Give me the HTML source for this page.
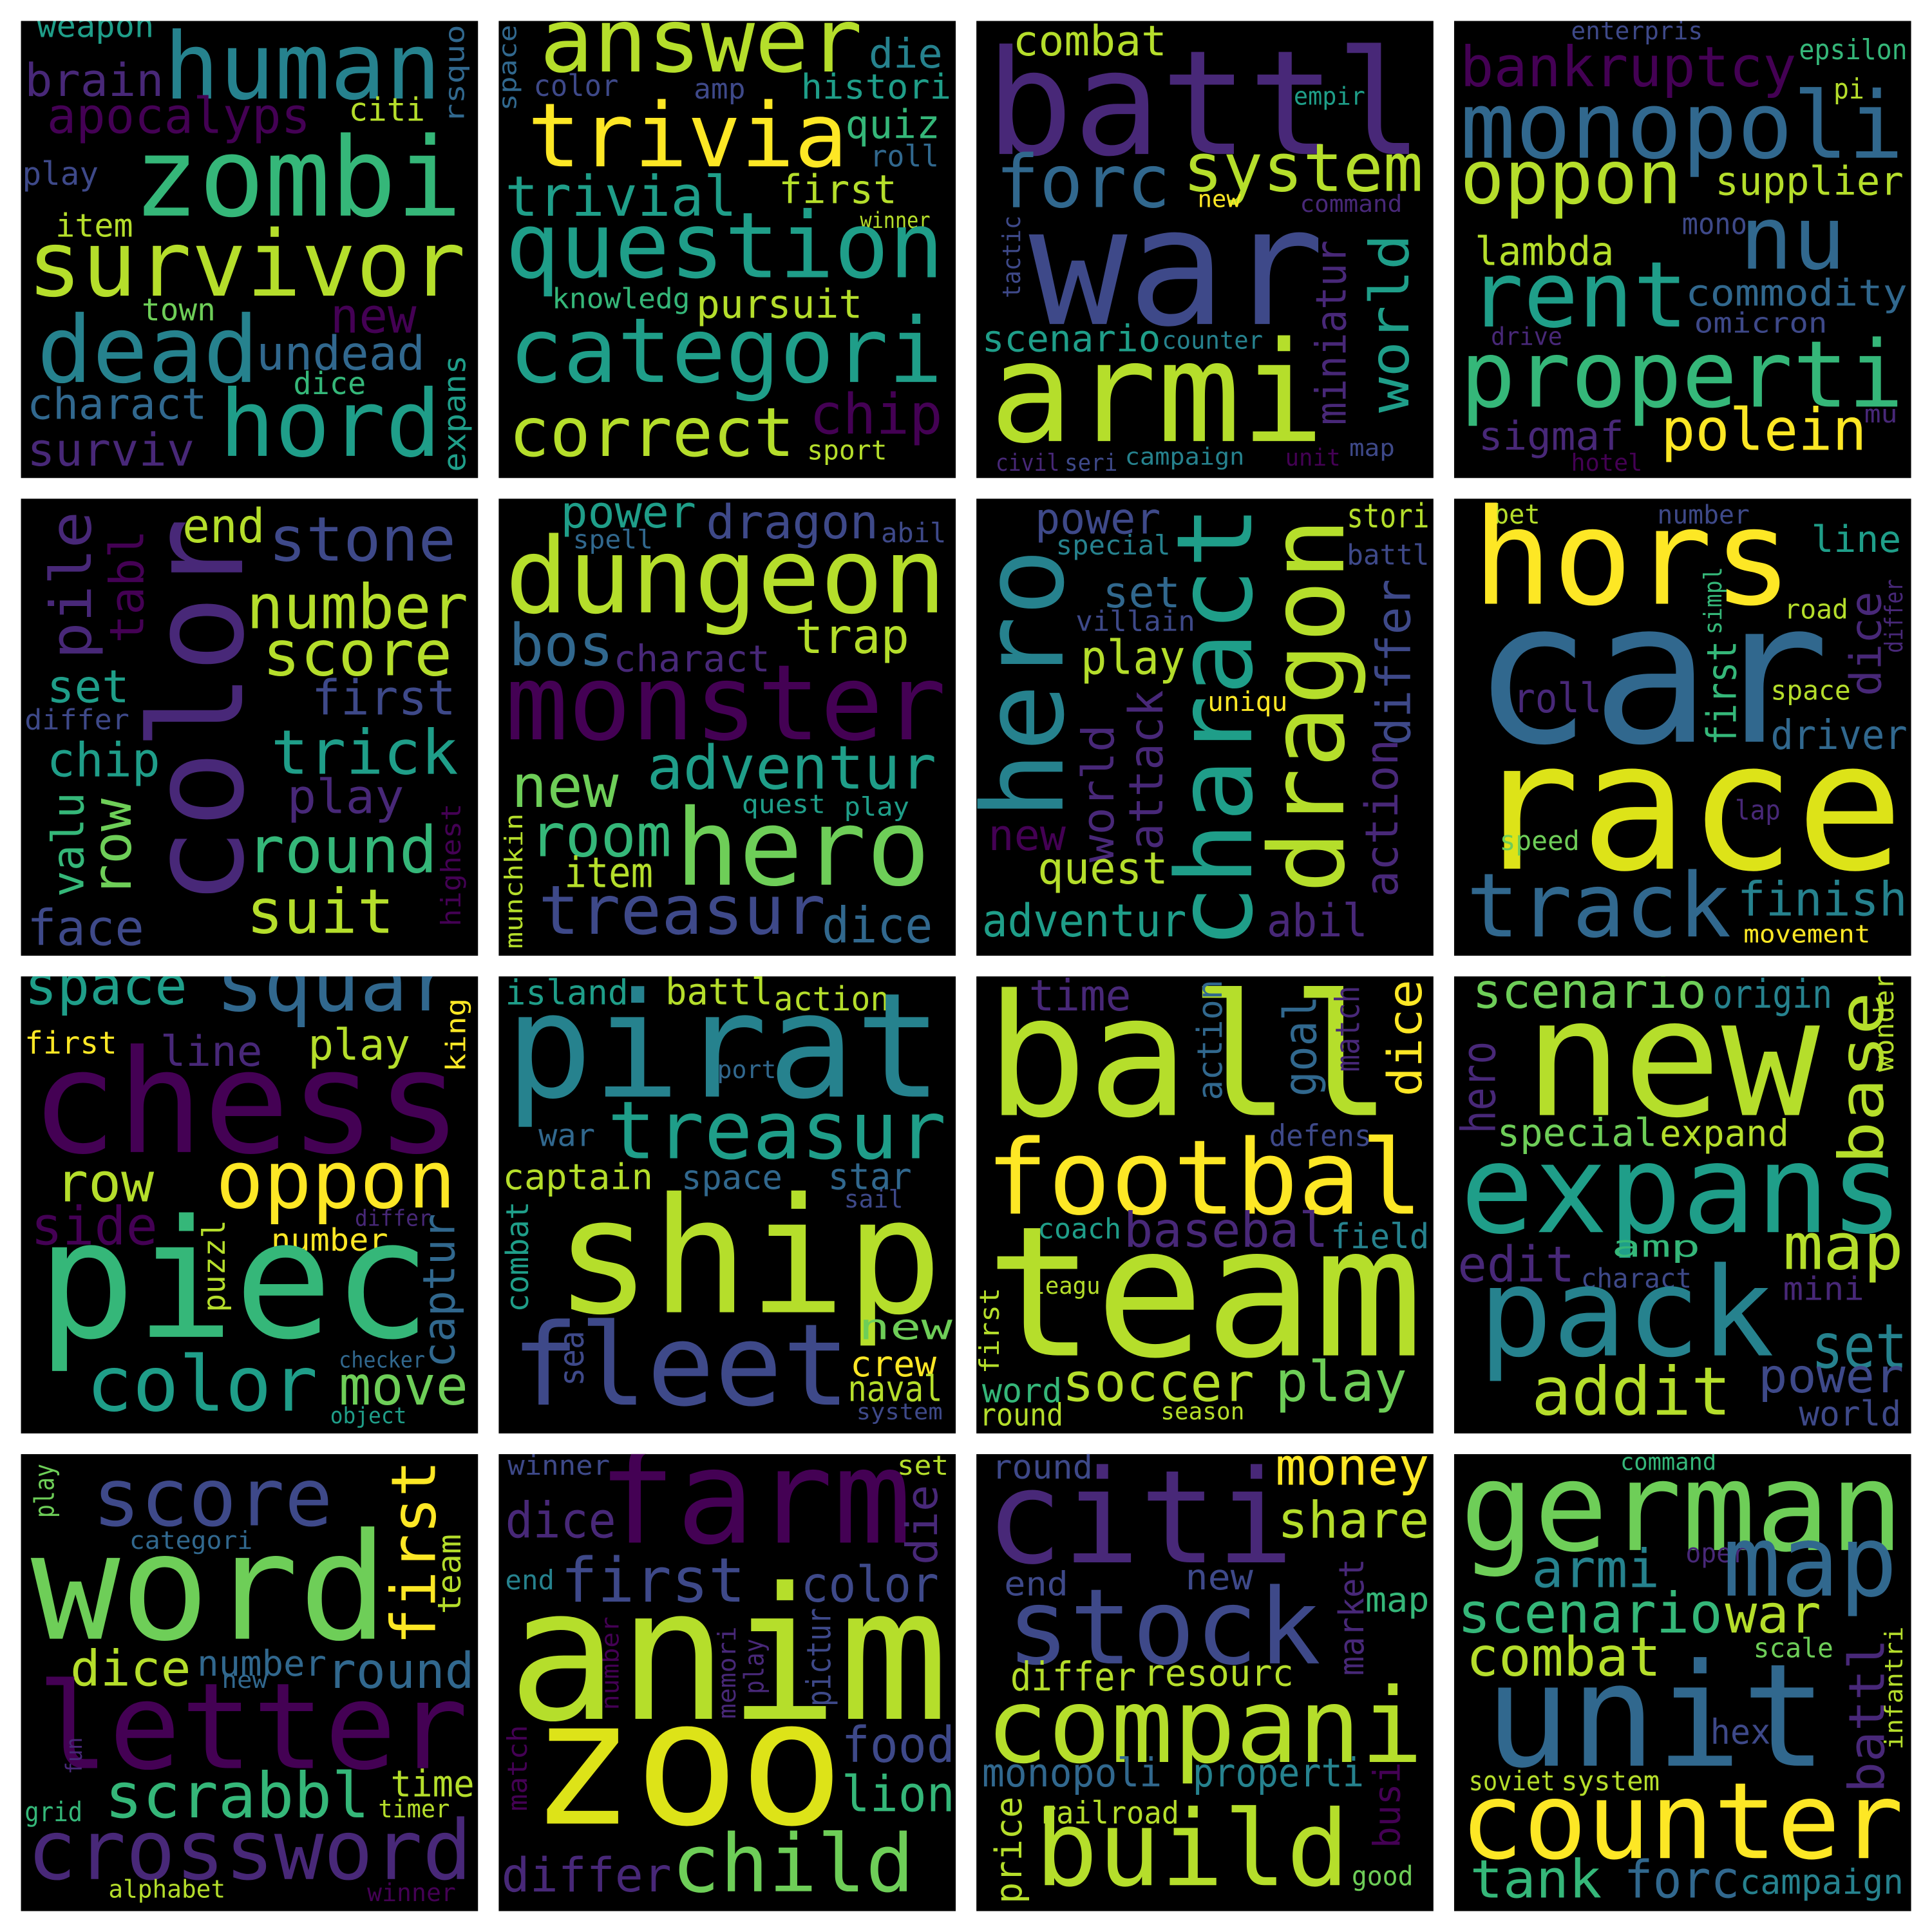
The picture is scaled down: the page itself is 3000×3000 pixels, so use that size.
<!DOCTYPE html>
<html><head><meta charset="utf-8"><style>
html,body{margin:0;padding:0;background:#fff;}
svg{display:block;}
text{font-family:"DejaVu Sans Mono","Liberation Mono",monospace;}
</style></head><body>
<svg id="chart" width="3000" height="3000" viewBox="0 0 1568 1568" xmlns="http://www.w3.org/2000/svg">
<rect width="1568" height="1568" fill="#fff"/>
<defs id="defs"></defs>
</svg>
<script>
const C={a:'#440154',b:'#482878',c:'#3e4989',d:'#31688e',e:'#26828e',f:'#1f9e89',g:'#35b779',h:'#6ece58',i:'#b5de2b',j:'#fde725',k:'#dde318'};
// [word, x, y, length, fontSize, colour, rotated]
const panel1=[["weapon",30,30,95,26,"f"],["human",133,80,225,75,"e"],["rsquo",370,100,80,22,"d",1],["brain",20,78,113,37,"b"],["apocalyps",38,108,214,40,"a"],["citi",283,98,62,26,"i"],["play",18,150,62,26,"c"],["zombi",108,175,267,89,"g"],["item",45,192,63,26,"i"],["survivor",22,240,356,74,"i"],["town",115,260,60,25,"h"],["new",268,270,70,39,"a"],["dead",30,310,180,75,"e"],["undead",208,300,137,38,"d"],["dice",238,320,59,25,"g"],["expans",370,383,95,25,"f",1],["charact",22,340,146,35,"d"],["hord",178,370,180,75,"f"],["surviv",22,378,136,37,"b"]];
const panel2=[["space",413,90,70,20,"d",1],["answer",438,58,262,72,"i"],["die",705,55,60,33,"e"],["color",433,78,69,24,"c"],["amp",563,80,42,23,"c"],["histori",650,80,122,28,"f"],["trivia",428,135,260,72,"j"],["quiz",686,112,77,32,"g"],["roll",706,135,56,24,"d"],["trivial",410,175,188,45,"f"],["first",632,165,96,32,"i"],["winner",698,185,57,18,"i"],["question",410,225,356,74,"f"],["knowledg",448,250,112,23,"g"],["pursuit",565,258,135,32,"i"],["categori",413,310,352,73,"f"],["chip",657,352,108,45,"a"],["correct",413,370,232,55,"i"],["sport",655,373,65,22,"i"]];
const panel3=[["combat",822,45,125,34,"i"],["battl",800,125,355,118,"b"],["empir",1050,85,58,20,"f"],["forc",808,168,142,59,"d"],["system",960,155,195,54,"i"],["new",972,168,35,19,"j"],["command",1055,172,83,19,"b"],["tactic",822,242,67,20,"c",1],["war",835,263,240,133,"c"],["miniatur",1082,345,150,34,"b",1],["world",1130,335,145,44,"f",1],["scenario",797,285,145,30,"f"],["counter",943,283,82,20,"e"],["armi",803,358,272,113,"i"],["civil",808,382,52,19,"b"],["seri",864,382,43,19,"c"],["campaign",913,377,97,19,"e"],["unit",1043,378,45,19,"a"],["map",1095,370,37,19,"c"]];
const panel4=[["enterpris",1275,32,107,20,"c"],["epsilon",1460,48,88,23,"g"],["bankruptcy",1185,70,273,45,"a"],["pi",1488,80,25,23,"i"],["monopoli",1185,128,360,75,"d"],["oppon",1185,165,180,60,"i"],["supplier",1392,158,153,32,"i"],["mono",1365,190,53,24,"c"],["nu",1412,218,86,71,"d"],["lambda",1197,215,113,32,"i"],["rent",1192,265,178,74,"f"],["commodity",1368,248,180,30,"d"],["omicron",1375,270,108,23,"c"],["drive",1210,280,58,20,"b"],["properti",1185,330,360,75,"g"],["sigmaf",1200,365,118,32,"b"],["polein",1348,365,167,47,"j"],["mu",1513,343,27,20,"b"],["hotel",1275,382,58,19,"a"]];
const panel5=[["pile",60,535,120,46,"b",1],["tabl",105,522,92,38,"a",1],["color",165,735,315,105,"b",1],["end",148,440,67,38,"i"],["stone",218,455,152,50,"c"],["number",200,510,180,50,"i"],["score",213,548,154,51,"i"],["first",253,580,117,39,"c"],["set",38,570,67,37,"f"],["differ",20,592,85,23,"c"],["chip",38,630,92,38,"f"],["trick",220,628,152,50,"f"],["valu",57,728,85,36,"g",1],["row",93,728,80,44,"h",1],["play",233,660,95,38,"b"],["round",200,708,155,52,"g"],["highest",367,752,100,22,"a",1],["suit",200,757,120,50,"i"],["face",22,767,95,40,"c"]];
const panel6=[["power",455,428,110,36,"f"],["dragon",573,437,140,38,"c"],["spell",465,445,65,21,"d"],["abil",715,440,53,22,"c"],["dungeon",410,497,358,85,"i"],["bos",413,540,85,47,"d"],["charact",498,545,127,30,"b"],["trap",645,530,93,39,"i"],["monster",410,600,358,85,"a"],["new",415,655,87,48,"h"],["adventur",525,640,235,49,"f"],["quest",602,660,68,21,"f"],["play",685,662,53,21,"f"],["room",430,695,115,48,"g"],["munchkin",418,770,110,20,"i",1],["hero",548,718,207,86,"h"],["item",458,720,72,34,"i"],["treasur",437,758,233,55,"c"],["dice",667,765,90,40,"d"]];
const panel7=[["power",840,433,102,35,"c"],["stori",1093,428,67,27,"i"],["special",857,450,93,22,"e"],["battl",1093,458,67,23,"c"],["charact",990,770,360,85,"f",1],["dragon",1065,725,305,84,"i",1],["hero",835,665,220,91,"e",1],["set",895,493,63,35,"d"],["villain",873,512,97,23,"c"],["differ",1133,605,135,38,"c",1],["play",877,547,85,38,"i"],["uniqu",980,577,65,22,"j"],["world",893,700,112,36,"b",1],["attack",932,690,130,38,"b",1],["action",1123,728,128,37,"b",1],["new",802,690,63,35,"a"],["quest",842,717,106,36,"i"],["adventur",797,760,166,37,"f"],["abil",1028,760,82,37,"b"]];
const panel8=[["bet",1212,425,38,22,"i"],["number",1345,425,75,21,"c"],["hors",1195,490,260,108,"j"],["line",1470,448,73,30,"f"],["simpl",1391,515,55,20,"g",1],["road",1448,502,52,22,"i"],["dice",1516,565,85,35,"b",1],["differ",1538,530,60,20,"b",1],["car",1195,602,290,160,"d"],["first",1399,605,85,33,"g",1],["roll",1228,578,72,33,"b"],["space",1437,568,65,22,"i"],["driver",1437,608,111,33,"d"],["race",1195,705,350,145,"k"],["lap",1408,665,37,22,"b"],["speed",1217,690,65,22,"h"],["track",1190,760,215,72,"d"],["finish",1410,743,138,38,"e"],["movement",1415,765,103,20,"j"]];
const panel9=[["space",20,815,132,44,"f"],["squar",175,820,195,65,"d"],["king",371,870,60,22,"j",1],["first",20,855,75,25,"j"],["line",130,865,83,34,"b"],["play",250,860,83,35,"i"],["chess",25,935,350,116,"a"],["row",45,975,80,44,"i"],["oppon",175,980,195,65,"j"],["side",25,1010,103,43,"a"],["differ",288,995,62,18,"b"],["puzzl",175,1065,75,25,"i",1],["number",220,1015,95,25,"j"],["captur",358,1110,125,36,"d",1],["piec",30,1085,320,133,"g"],["checker",275,1110,70,18,"d"],["color",70,1145,188,62,"f"],["move",275,1140,105,44,"h"],["object",268,1155,62,18,"f"]];
const panel10=[["island",410,815,100,28,"f"],["battl",540,815,87,30,"i"],["action",628,820,94,27,"i"],["pirat",410,890,355,118,"e"],["port",582,875,48,20,"d"],["war",437,930,46,25,"d"],["treasur",493,940,275,65,"f"],["captain",408,965,122,29,"i"],["space",553,965,82,27,"d"],["star",672,965,68,30,"d"],["sail",685,980,48,20,"c"],["combat",421,1065,90,25,"f",1],["ship",450,1065,315,130,"i"],["sea",465,1125,45,28,"c",1],["fleet",415,1140,275,92,"c"],["new",697,1087,76,29,"h"],["crew",690,1117,70,29,"j"],["naval",688,1137,77,29,"i"],["system",695,1152,70,18,"c"]];
const panel11=[["time",835,820,83,35,"b"],["ball",800,905,330,137,"i"],["action",983,893,98,28,"d",1],["goal",1057,890,82,37,"d",1],["match",1095,870,70,27,"b",1],["dice",1142,890,95,38,"j",1],["defens",1030,930,83,24,"c"],["footbal",800,985,355,84,"j"],["coach",842,1005,68,23,"f"],["basebal",912,1012,166,39,"b"],["field",1080,1013,80,28,"e"],["leagu",837,1050,56,19,"i"],["first",804,1115,70,22,"i",1],["team",800,1100,355,147,"i"],["word",797,1138,65,27,"g"],["round",795,1157,68,25,"i"],["soccer",862,1137,156,43,"i"],["play",1035,1137,107,45,"h"],["season",942,1152,68,19,"i"]];
const panel12=[["scenario",1195,818,190,39,"h"],["origin",1390,818,97,32,"e"],["wonder",1530,870,80,22,"i",1],["new",1237,905,240,133,"i"],["base",1513,945,140,50,"i",1],["hero",1202,920,75,38,"b",1],["special",1215,930,130,31,"h"],["expand",1347,930,105,30,"i"],["expans",1185,1000,360,100,"f"],["map",1447,1030,98,52,"i"],["amp",1308,1020,72,24,"g"],["edit",1183,1040,95,40,"b"],["charact",1283,1045,90,22,"c"],["mini",1447,1055,66,26,"b"],["pack",1200,1100,240,100,"e"],["set",1470,1110,78,50,"e"],["addit",1243,1148,162,54,"i"],["power",1427,1130,118,38,"c"],["world",1460,1157,83,28,"c"]];
const panel13=[["play",37,1232,44,22,"h",1],["score",75,1238,195,65,"c"],["categori",105,1257,100,20,"d"],["first",338,1335,150,50,"j",1],["team",366,1310,65,26,"i",1],["word",25,1330,290,120,"h"],["dice",57,1368,98,40,"i"],["number",160,1360,105,29,"d"],["new",180,1370,37,19,"d"],["round",265,1370,120,40,"d"],["letter",30,1435,350,97,"a"],["fun",61,1440,30,18,"b",1],["scrabbl",85,1475,215,51,"g"],["time",317,1458,68,30,"i"],["grid",20,1478,47,22,"g"],["timer",307,1475,58,20,"i"],["crossword",22,1525,361,67,"b"],["alphabet",88,1540,95,20,"i"],["winner",298,1543,72,20,"a"]];
const panel14=[["winner",412,1197,83,22,"c"],["set",728,1197,42,22,"i"],["farm",485,1252,255,106,"a"],["die",750,1270,65,35,"b",1],["dice",410,1248,90,40,"b"],["end",410,1290,40,22,"e"],["first",455,1300,150,50,"c"],["color",650,1300,112,40,"c"],["number",496,1388,76,20,"a",1],["memori",591,1395,75,20,"b",1],["play",613,1375,45,22,"b",1],["pictur",666,1385,80,27,"c",1],["anim",412,1395,358,149,"i"],["match",421,1470,70,22,"a",1],["food",683,1430,92,40,"c"],["zoo",430,1480,255,141,"k"],["lion",683,1470,92,40,"g"],["differ",407,1535,138,38,"b"],["child",545,1535,197,65,"h"]];
const panel15=[["round",805,1200,82,27,"c"],["money",1035,1205,125,42,"j"],["citi",800,1268,250,105,"b"],["share",1037,1248,123,41,"i"],["end",815,1295,52,27,"c"],["new",962,1290,55,29,"c"],["market",1098,1360,95,28,"b",1],["map",1108,1308,52,28,"g"],["stock",817,1350,255,85,"c"],["differ",820,1372,102,32,"i"],["resourc",928,1368,122,30,"i"],["compani",800,1430,355,84,"i"],["monopoli",797,1450,146,32,"d"],["properti",968,1450,139,32,"e"],["price",820,1545,87,30,"i",1],["railroad",843,1480,114,25,"i"],["busi",1127,1500,70,30,"a",1],["build",840,1530,255,85,"i"],["good",1097,1530,50,22,"h"]];
const panel16=[["command",1315,1193,78,19,"g"],["german",1185,1258,360,100,"h"],["armi",1243,1288,104,43,"e"],["oper",1368,1268,50,22,"b"],["map",1398,1295,142,80,"d"],["scenario",1183,1325,215,45,"g"],["war",1400,1325,78,43,"i"],["combat",1190,1360,158,44,"i"],["scale",1423,1345,65,22,"h"],["infantri",1538,1420,100,20,"i",1],["battl",1517,1455,125,40,"b",1],["unit",1205,1433,278,116,"d"],["hex",1388,1415,49,28,"c"],["soviet",1192,1453,70,22,"i"],["system",1267,1453,80,22,"i"],["counter",1185,1508,360,86,"j"],["tank",1193,1540,107,43,"g"],["forc",1318,1540,94,42,"d"],["campaign",1412,1537,133,28,"e"]];
const panels=[panel1,panel2,panel3,panel4,panel5,panel6,panel7,panel8,panel9,panel10,panel11,panel12,panel13,panel14,panel15,panel16];
const NS='http://www.w3.org/2000/svg';
const svg=document.getElementById('chart');
const defs=document.getElementById('defs');
panels.forEach((words,p)=>{
  const col=p%4,row=Math.floor(p/4);
  const px=17+col*387.7,py=17+row*387.7;
  const cp=document.createElementNS(NS,'clipPath');
  cp.setAttribute('id','clip'+p);
  const cr=document.createElementNS(NS,'rect');
  cr.setAttribute('x',px);cr.setAttribute('y',py);cr.setAttribute('width',371);cr.setAttribute('height',371);
  cp.appendChild(cr);defs.appendChild(cp);
  const g=document.createElementNS(NS,'g');
  
  
  g.setAttribute('clip-path','url(#clip'+p+')');
  const r=document.createElementNS(NS,'rect');
  r.setAttribute('x',px);r.setAttribute('y',py);
  r.setAttribute('width',371);r.setAttribute('height',371);r.setAttribute('fill','#000');
  
  
  g.appendChild(r);
  words.forEach(w=>{
    const [txt,x,y,len,fs,c,rot]=w;
    const t=document.createElementNS(NS,'text');
    t.textContent=txt;
    t.setAttribute('font-size',fs);
    t.setAttribute('fill',C[c]);
    t.setAttribute('textLength',len);
    t.setAttribute('lengthAdjust','spacingAndGlyphs');
    if(rot){
      const bx=x+0.3*fs;
      t.setAttribute('x',0);t.setAttribute('y',0);
      t.setAttribute('transform','translate('+bx+','+y+') rotate(-90)');
    }else{
      t.setAttribute('x',x);t.setAttribute('y',y);
    }
    
    
    g.appendChild(t);
  });
  svg.appendChild(g);
});
</script>
</body></html>
